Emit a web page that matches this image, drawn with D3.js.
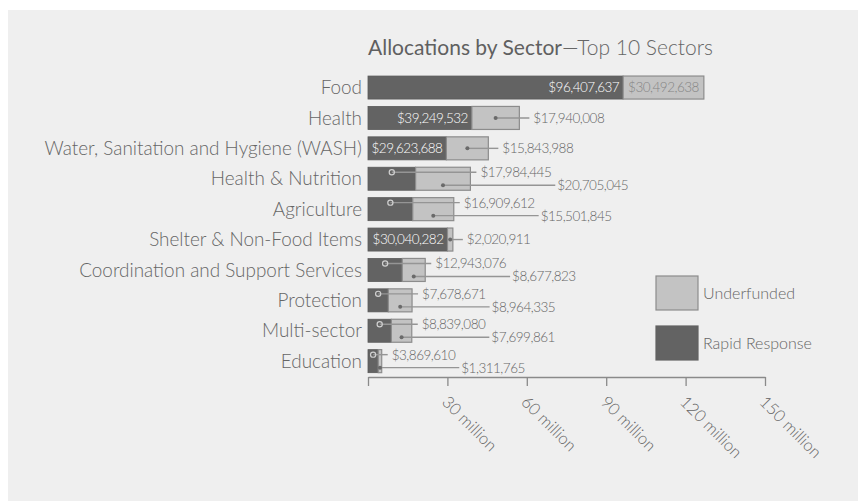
<!DOCTYPE html>
<html><head><meta charset="utf-8">
<script src="https://cdn.jsdelivr.net/npm/d3@7/dist/d3.min.js"></script>
<style>
html,body{margin:0;padding:0;background:#fff;}
svg{display:block;font-family:Lato,"Noto Sans",sans-serif;font-weight:300;}
</style></head><body>
<svg id="chart" width="858" height="501"></svg>
<script>
const sectors = ["Food","Health","Water, Sanitation and Hygiene (WASH)","Health & Nutrition","Agriculture","Shelter & Non-Food Items","Coordination and Support Services","Protection","Multi-sector","Education"];
const rapidResponse = [96407637,39249532,29623688,17984445,16909612,30040282,12943076,7678671,8839080,3869610];
const underfunded = [30492638,17940008,15843988,20705045,15501845,2020911,8677823,8964335,7699861,1311765];
const tickValues = [0,30e6,60e6,90e6,120e6,150e6];
const tickLabels = ["","30 million","60 million","90 million","120 million","150 million"];
const seriesNames = ["Underfunded","Rapid Response"];

const DARK="#636363", LIGHT="#c3c3c3", LSTROKE="#8c8c8c", TXT="#666", LINE="#959595";
const svg = d3.select("#chart");
svg.append("rect").attr("x",8).attr("y",10).attr("width",850).attr("height",491).attr("fill","#efefef");

const x = d3.scaleLinear().domain([0,150e6]).range([368,765]);
const y = d3.scaleBand().domain(sectors).range([73,375.7]).paddingInner(0.243).paddingOuter(0.1);
const fmt = d3.format("$,");

// title
const title = svg.append("text").attr("x",368).attr("y",55).attr("font-size",21).attr("fill",TXT);
title.append("tspan").text("Allocations by Sector").attr("font-weight",400).attr("fill","#606060");
title.append("tspan").text("\u2014Top 10 Sectors").attr("font-weight",300);

// category labels
svg.append("g").selectAll("text").data(sectors).join("text")
  .attr("x",362).attr("y",d=>y(d)+y.bandwidth()/2).attr("dy","0.35em")
  .attr("text-anchor","end").attr("font-size",18.9).attr("fill",TXT).text(d=>d);

const rows = sectors.map((s,i)=>({s, rr:rapidResponse[i], uf:underfunded[i]}));
const bars = svg.append("g");
rows.forEach(r=>{
  const yy=y(r.s), h=y.bandwidth();
  bars.append("rect").attr("x",x(0)).attr("y",yy).attr("width",x(r.rr)-x(0)).attr("height",h)
    .attr("fill",DARK).attr("stroke","#5a5a5a").attr("stroke-width",0.8);
  bars.append("rect").attr("x",x(r.rr)).attr("y",yy).attr("width",x(r.rr+r.uf)-x(r.rr)).attr("height",h)
    .attr("fill",LIGHT).attr("stroke",LSTROKE).attr("stroke-width",1.2);
});

const VFS = 13.5;
const lab = svg.append("g").attr("font-size",VFS).attr("letter-spacing","-0.5px");
function tw(str){ const t=lab.append("text").text(str); const w=t.node().getComputedTextLength(); t.remove(); return w; }

rows.forEach(r=>{
  const yc = y(r.s)+y.bandwidth()/2;
  const x0=x(0), x1=x(r.rr), x2=x(r.rr+r.uf);
  const rrT=fmt(r.rr), ufT=fmt(r.uf);
  const rrIn = (x1-x0) >= tw(rrT)+4;
  const ufIn = (x2-x1) >= tw(ufT)+4;
  if(rrIn){
    lab.append("text").attr("x",x1-4).attr("y",yc).attr("dy","0.36em").attr("text-anchor","end").attr("fill","#fff").text(rrT);
  }
  if(ufIn){
    lab.append("text").attr("x",(x1+x2)/2).attr("y",yc).attr("dy","0.36em").attr("text-anchor","middle").attr("fill","#858585").text(ufT);
  }
  if(!rrIn){
    const yu = yc-6.5, cx=(x0+x1)/2, lx = x2+10;
    lab.append("line").attr("x1",cx).attr("x2",lx-4).attr("y1",yu).attr("y2",yu).attr("stroke",LINE).attr("stroke-width",1.4);
    lab.append("circle").attr("cx",cx).attr("cy",yu).attr("r",2.6).attr("fill","none").attr("stroke","#d0d0d0").attr("stroke-width",1.2);
    lab.append("text").attr("x",lx).attr("y",yu).attr("dy","0.36em").attr("fill",TXT).text(rrT);
    if(!ufIn){
      const yl=yc+6.5, dx=(x1+x2)/2, lx2 = lx+tw(rrT)+6;
      lab.append("line").attr("x1",dx).attr("x2",lx2-2).attr("y1",yl).attr("y2",yl).attr("stroke",LINE).attr("stroke-width",1.4);
      lab.append("circle").attr("cx",dx).attr("cy",yl).attr("r",2).attr("fill","#6a6a6a");
      lab.append("text").attr("x",lx2).attr("y",yl).attr("dy","0.36em").attr("fill",TXT).text(ufT);
    }
  } else if(!ufIn){
    const dx=(x1+x2)/2, lx=x2+14;
    lab.append("line").attr("x1",dx).attr("x2",lx-4).attr("y1",yc).attr("y2",yc).attr("stroke",LINE).attr("stroke-width",1.4);
    lab.append("circle").attr("cx",dx).attr("cy",yc).attr("r",2).attr("fill","#6a6a6a");
    lab.append("text").attr("x",lx).attr("y",yc).attr("dy","0.36em").attr("fill",TXT).text(ufT);
  }
});

// x axis
const axis = d3.axisBottom(x).tickValues(tickValues).tickSize(9).tickSizeOuter(0)
  .tickFormat((d,i)=>tickLabels[i]);
const ag = svg.append("g").attr("transform","translate(0,377)").call(axis);
ag.select(".domain").attr("stroke","#8a8a8a").attr("stroke-width",1.3);
ag.selectAll(".tick line").attr("stroke","#8a8a8a").attr("stroke-width",1.3);
ag.selectAll(".tick text").attr("fill",TXT).attr("font-size",16.5).attr("font-family","Lato").attr("font-weight",300)
  .attr("text-anchor","start").attr("x",0).attr("y",0).attr("dy","0")
  .attr("transform","translate(-7,26) rotate(45)");

// legend
const lg = svg.append("g");
seriesNames.forEach((n,i)=>{
  const ly = 276 + i*50;
  lg.append("rect").attr("x",656).attr("y",ly).attr("width",42).attr("height",34)
    .attr("fill", i===0?LIGHT:DARK).attr("stroke", i===0?LSTROKE:DARK).attr("stroke-width",1.2);
  lg.append("text").attr("x",703).attr("y",ly+17).attr("dy","0.35em").attr("font-size",16).attr("fill",TXT).text(n);
});
</script></body></html>
